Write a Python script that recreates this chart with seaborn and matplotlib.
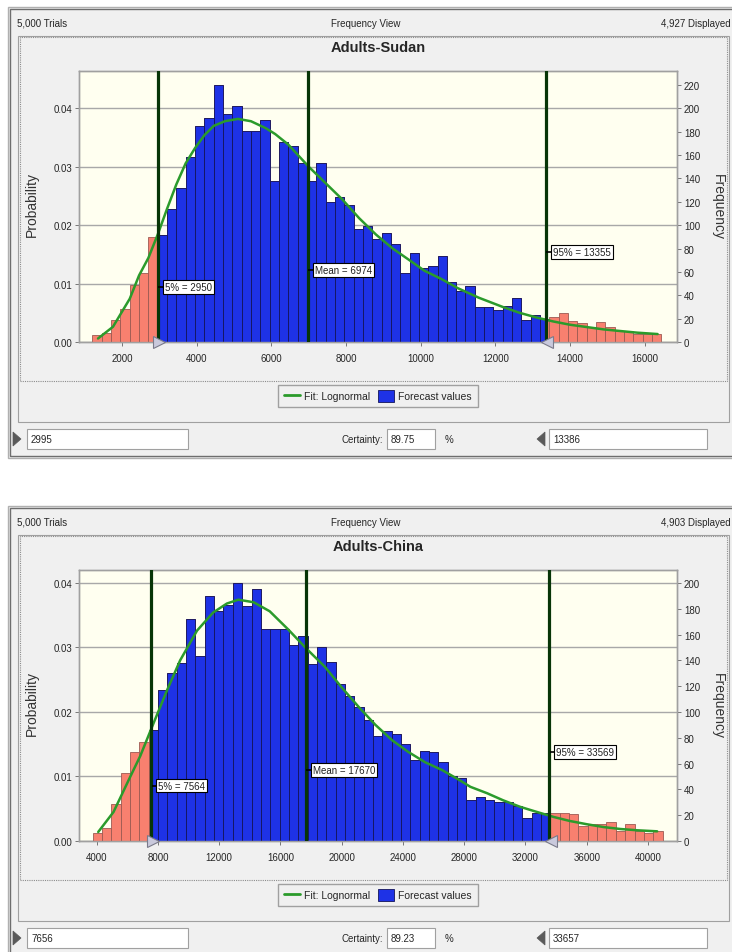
import matplotlib
matplotlib.use("Agg")
import matplotlib.pyplot as plt
from matplotlib.patches import Rectangle, Patch, Polygon
from matplotlib.lines import Line2D
from matplotlib.transforms import offset_copy
import seaborn as sns
import numpy as np
import pandas as pd

W, H = 732, 953

# --- Adults-Sudan ---
sudan_title = "Adults-Sudan"
sudan_trials = "5,000 Trials"
sudan_displayed = "4,927 Displayed"
sudan_bin_start = 1200
sudan_bin_width = 250
sudan_counts = [6, 8, 19, 28, 49, 59, 90, 92, 114, 132, 158, 185, 192, 220, 195,
                202, 181, 181, 190, 138, 171, 168, 153, 138, 153, 120, 124, 117, 97,
                99, 88, 93, 84, 59, 76, 63, 65, 74, 51, 44, 48, 30, 30, 27, 31, 38,
                19, 23, 20, 21, 25, 18, 16, 13, 17, 13, 9, 9, 7, 7, 7]
sudan_fit_x = [1350, 1750, 2200, 2450, 2700, 2950, 3200, 3450, 3700, 3950,
               4200, 4450, 4750, 5100, 5450, 5850, 6100, 6450, 7000, 7450,
               7900, 8350, 8800, 9250, 9700, 10100, 10550, 11000, 11550, 12200,
               12650, 13100, 13550, 14000, 14450, 14900, 15350, 15800, 16350]
sudan_fit_y = [3, 13, 37, 57, 72, 92, 114, 135, 153, 166,
               177, 185, 189, 191, 189, 183, 178, 169, 150, 136,
               122, 106, 92, 80, 70, 61, 54, 46, 38, 30,
               25, 21, 17.6, 14.8, 12.8, 10.8, 9.4, 8, 6.8]
sudan_stats = [2950, 6974, 13355]          # 5%, mean, 95%
sudan_stat_labels = ["5% = 2950", "Mean = 6974", "95% = 13355"]
sudan_label_freq = [47, 62, 77]
sudan_grab = [2995, 13386]
sudan_certainty = "89.75"
sudan_xticks = [2000, 4000, 6000, 8000, 10000, 12000, 14000, 16000]
sudan_xlim = [840, 16870]
sudan_freq_ticks = list(range(0, 221, 20))
sudan_freq_max = 232

# --- Adults-China ---
china_title = "Adults-China"
china_trials = "5,000 Trials"
china_displayed = "4,903 Displayed"
china_bin_start = 3740
china_bin_width = 610
china_counts = [6, 10, 29, 53, 69, 77, 86, 117, 130, 138, 172, 143, 190, 178, 183,
                200, 182, 195, 164, 164, 164, 152, 159, 137, 150, 139, 122, 112, 104,
                94, 81, 85, 83, 75, 63, 70, 69, 61, 50, 49, 32, 34, 32, 30, 30, 27,
                18, 22, 22, 22, 22, 21, 12, 13, 13, 15, 8, 13, 8, 6, 8]
china_fit_x = [4100, 5100, 6200, 6850, 7600, 8600, 9450, 10550, 11600, 12500,
               13250, 14250, 15300, 16500, 17700, 18900, 20000, 21100, 22200, 23300,
               24350, 25450, 26550, 27650, 28400, 29500, 30550, 31650, 32750, 33850,
               34900, 36000, 37100, 38200, 39300, 40600]
china_fit_y = [7, 22.5, 50, 66, 88, 117, 140, 163, 177, 184,
               187, 185, 178, 164, 149, 135, 119, 104, 90, 78,
               69, 61, 55, 47.5, 42, 37, 31.5, 26.5, 22.5, 18.6,
               15.5, 13, 10.8, 9.3, 8.3, 7.5]
china_stats = [7564, 17670, 33569]
china_stat_labels = ["5% = 7564", "Mean = 17670", "95% = 33569"]
china_label_freq = [43, 55, 69]
china_grab = [7656, 33657]
china_certainty = "89.23"
china_xticks = [4000, 8000, 12000, 16000, 20000, 24000, 28000, 32000, 36000, 40000]
china_xlim = [2845, 41895]
china_freq_ticks = list(range(0, 201, 20))
china_freq_max = 210

prob_ticks = [0.00, 0.01, 0.02, 0.03, 0.04]
n_trials = 5000

BLUE = "#1e32e6"
PINK = "#f8806f"
GREEN = "#2b9b2b"
LINE = "#073507"
GRID = "#a8a8a8"
PANEL = "#f0f0f0"
PLOT_BG = "#fffff0"

sns.set_theme(style="white")
plt.rcParams["font.family"] = ["Liberation Sans", "DejaVu Sans"]


def fx(x):
    return x / W


def fy(y):
    return 1 - y / H


def add_rect(fig, x0, y0, x1, y1, **kw):
    fig.add_artist(Rectangle((fx(x0), fy(y1)), fx(x1) - fx(x0), fy(y0) - fy(y1),
                             transform=fig.transFigure, **kw))


def add_tri(fig, pts, color):
    fig.add_artist(Polygon([(fx(a), fy(b)) for a, b in pts], closed=True,
                           transform=fig.transFigure, fc=color, ec=color, lw=0.5))


def draw_panel(fig, dy, title, trials, displayed, counts, bin_start, bin_width,
               fit_x, fit_y, stats, stat_labels, label_freq, grab, certainty,
               xticks, xlim, freq_ticks, freq_max):
    # window chrome
    add_rect(fig, 8, dy + 8, 745, dy + 459, fc=PANEL, ec="#b0b0b0", lw=1, zorder=0)
    add_rect(fig, 10, dy + 10, 745, dy + 457, fc="none", ec="#6e6e6e", lw=1, zorder=0)
    add_rect(fig, 18, dy + 37, 729, dy + 423, fc="none", ec="#a0a0a0", lw=0.8, zorder=1)
    add_rect(fig, 20, dy + 38, 727, dy + 382, fc="none", ec="#8c8c8c", lw=0.8,
             ls=(0, (1, 1)), zorder=1)
    fig.text(fx(17), fy(dy + 24), trials, fontsize=7, ha="left", va="center")
    fig.text(fx(366), fy(dy + 24), "Frequency View", fontsize=7, ha="center", va="center")
    fig.text(fx(731), fy(dy + 24), displayed, fontsize=7, ha="right", va="center")
    fig.text(fx(378), fy(dy + 48), title, fontsize=10.5, fontweight="bold",
             ha="center", va="center")

    # plot area
    ax = fig.add_axes([fx(79), fy(dy + 343), fx(677) - fx(79), (343 - 72) / H])
    ax.set_facecolor(PLOT_BG)
    ax2 = ax.twinx()

    edges = bin_start + bin_width * np.arange(len(counts) + 1)
    centers = (edges[:-1] + edges[1:]) / 2
    df = pd.DataFrame({"value": centers, "count": counts})
    sns.histplot(data=df, x="value", weights="count", bins=edges.tolist(), ax=ax2,
                 color=PINK, edgecolor="#9c5a52", linewidth=0.6, alpha=1)
    # blue part: between the 5% and 95% lines
    inner = (edges > stats[0]) & (edges < stats[2])
    b_edges = np.concatenate([[stats[0]], edges[inner], [stats[2]]])
    b_centers = (b_edges[:-1] + b_edges[1:]) / 2
    parent = np.searchsorted(edges, b_centers) - 1
    df_b = pd.DataFrame({"value": b_centers, "count": np.asarray(counts)[parent]})
    sns.histplot(data=df_b, x="value", weights="count", bins=b_edges.tolist(), ax=ax2,
                 color=BLUE, edgecolor="#14145a", linewidth=0.6, alpha=1)

    sns.lineplot(x=fit_x, y=fit_y, ax=ax2, color=GREEN, linewidth=1.8, zorder=5)

    dash_tr = offset_copy(ax2.transData, fig=fig, x=2.5, y=0, units="points")
    for xv, lab, yv in zip(stats, stat_labels, label_freq):
        ax2.axvline(xv, color=LINE, linewidth=2.3, zorder=6)
        ax2.plot([xv], [yv], marker="_", ms=5, mew=1.2, color="black", zorder=7,
                 transform=dash_tr)
        ax2.annotate(lab, xy=(xv, yv), xytext=(5, 0), textcoords="offset points",
                     ha="left", va="center", fontsize=7, color="#222222", zorder=8,
                     bbox=dict(boxstyle="square,pad=0.2", fc="white", ec="black", lw=0.8))

    for g, m in zip(grab, [">", "<"]):
        ax2.plot([g], [0], marker=m, ms=8, mfc="#c9c9dc", mec="#7a7a8a", mew=0.8,
                 clip_on=False, zorder=9)

    ax.set_xlim(xlim)
    ax.set_ylim(0, freq_max / n_trials)
    ax2.set_ylim(0, freq_max)
    ax.set_xticks(xticks)
    ax.set_xticklabels([str(t) for t in xticks])
    ax.set_yticks(prob_ticks)
    ax.set_yticklabels([f"{t:.2f}" for t in prob_ticks])
    ax2.set_yticks(freq_ticks)
    ax2.set_yticklabels([str(t) for t in freq_ticks])
    ax.yaxis.grid(True, color=GRID, linewidth=1)
    ax.xaxis.grid(False)
    ax2.grid(False)
    ax.set_xlabel("")
    ax.set_ylabel("")
    ax2.set_xlabel("")
    ax2.set_ylabel("")
    for a in (ax, ax2):
        for s in a.spines.values():
            s.set_color("#a0a0a0")
            s.set_linewidth(1)
    ax.tick_params(axis="y", which="both", left=True, length=3, width=0.7,
                   color="#777777", labelsize=7, pad=2)
    ax.tick_params(axis="x", which="both", bottom=True, length=3, width=0.7,
                   color="#777777", labelsize=7, pad=5)
    ax2.tick_params(axis="y", right=True, length=3, width=0.7, color="#777777",
                    labelsize=7, pad=2)

    fig.text(fx(32), fy(dy + 205), "Probability", rotation=90, fontsize=10,
             ha="center", va="center", color="#333333")
    fig.text(fx(718), fy(dy + 207), "Frequency", rotation=270, fontsize=10,
             ha="center", va="center", color="#333333")

    # legend
    handles = [Line2D([0], [0], color=GREEN, lw=2),
               Patch(fc=BLUE, ec="#14145a", lw=0.6)]
    fig.legend(handles, ["Fit: Lognormal", "Forecast values"], loc="center",
               bbox_to_anchor=(fx(378), fy(dy + 397)), ncol=2, fontsize=7.5,
               frameon=True, fancybox=False, edgecolor="#a0a0a0", facecolor=PANEL,
               framealpha=1, handlelength=1.5, handleheight=1.3,
               handletextpad=0.4, columnspacing=0.8, borderpad=0.55)

    # certainty controls
    cy = dy + 440
    add_tri(fig, [(13, cy - 7), (21, cy), (13, cy + 7)], "#5a5a5a")
    add_tri(fig, [(545, cy - 7), (537, cy), (545, cy + 7)], "#5a5a5a")
    add_rect(fig, 27, cy - 10, 188, cy + 10, fc="white", ec="#a0a0a0", lw=0.8)
    add_rect(fig, 387, cy - 10, 435, cy + 10, fc="white", ec="#a0a0a0", lw=0.8)
    add_rect(fig, 549, cy - 10, 707, cy + 10, fc="white", ec="#a0a0a0", lw=0.8)
    fig.text(fx(31), fy(cy), str(grab[0]), fontsize=7, ha="left", va="center")
    fig.text(fx(383), fy(cy), "Certainty:", fontsize=7, ha="right", va="center")
    fig.text(fx(391), fy(cy), certainty, fontsize=7, ha="left", va="center")
    fig.text(fx(449), fy(cy), "%", fontsize=7, ha="center", va="center")
    fig.text(fx(553), fy(cy), str(grab[1]), fontsize=7, ha="left", va="center")


fig = plt.figure(figsize=(W / 100, H / 100), dpi=100, facecolor="white")

draw_panel(fig, 0, sudan_title, sudan_trials, sudan_displayed, sudan_counts,
           sudan_bin_start, sudan_bin_width, sudan_fit_x, sudan_fit_y, sudan_stats,
           sudan_stat_labels, sudan_label_freq, sudan_grab, sudan_certainty,
           sudan_xticks, sudan_xlim, sudan_freq_ticks, sudan_freq_max)
draw_panel(fig, 499, china_title, china_trials, china_displayed, china_counts,
           china_bin_start, china_bin_width, china_fit_x, china_fit_y, china_stats,
           china_stat_labels, china_label_freq, china_grab, china_certainty,
           china_xticks, china_xlim, china_freq_ticks, china_freq_max)

fig.savefig("out.png", dpi=100, facecolor="white")
